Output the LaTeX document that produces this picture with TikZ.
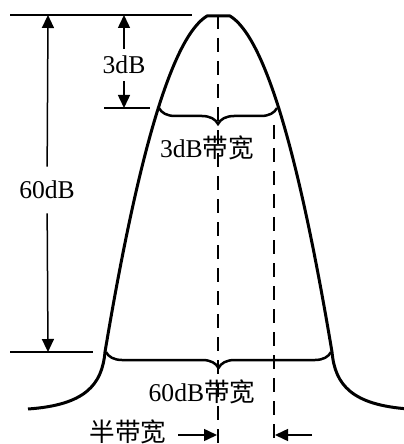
\documentclass[tikz,border=0pt]{standalone}
\usepackage{fontspec}
\setmainfont{Liberation Serif}
\newfontfamily\cjk{Noto Sans CJK SC}
\usetikzlibrary{arrows.meta,decorations.pathreplacing}

\begin{document}
\begin{tikzpicture}[x=0.5pt,y=-0.5pt,
    curve/.style={line width=1.5pt,line join=round},
    dimline/.style={line width=0.75pt},
    dimarrow/.style={line width=0.75pt,-{Triangle[length=6.5pt,width=6pt]}},
    axisline/.style={line width=0.9pt,dash pattern=on 7pt off 4.5pt},
    bwbrace/.style={line width=1.25pt,decorate,decoration={brace,mirror,amplitude=8pt}},
    lbl/.style={font=\fontsize{12.8}{15}\selectfont}]
    \useasboundingbox (0,0) rectangle (403,444);

    % Response curve
    \draw[curve] (28,409) .. controls (85,405) and (102,385) .. (105,352)
        .. controls (139,148.6) and (173,36.6) .. (207,16) -- (230,16)
        .. controls (264,36.6) and (298,148.6) .. (332,352)
        .. controls (335,385) and (352,405) .. (409,409);

    % Reference levels
    \coordinate (tl) at (10,15);
    \coordinate (tr) at (192,15);
    \coordinate (ml) at (104,108);
    \coordinate (mr) at (150,108);
    \coordinate (bl) at (10,352);
    \coordinate (br) at (93,352);
    \draw[dimline] (tl) -- (tr);
    \draw[dimline] (ml) -- (mr);
    \draw[dimline] (bl) -- (br);

    % 3dB and 60dB drops
    \coordinate (a3t) at (124,15);
    \coordinate (a3b) at (124,108);
    \node[lbl] (l3) at (124,65) {3dB};
    \draw[dimarrow] (l3) -- (a3t);
    \draw[dimarrow] (l3) -- (a3b);

    \coordinate (a60t) at (48,15);
    \coordinate (a60b) at (48,352);
    \node[lbl, inner ysep=7pt] (l60) at (47,190) {60dB};
    \draw[dimarrow] (l60) -- (a60t);
    \draw[dimarrow] (l60) -- (a60b);

    % Centre and half-band lines
    \coordinate (c0) at (218,15);
    \coordinate (c1) at (218,444);
    \coordinate (r0) at (274,125);
    \coordinate (r1) at (274,444);
    \draw[axisline] (c0) -- (c1);
    \draw[axisline, line width=1.1pt] (r0) -- (r1);

    % Bandwidth braces
    \coordinate (b3l) at (159,108);
    \coordinate (b3r) at (277,108);
    \coordinate (b60l) at (106,352);
    \coordinate (b60r) at (331,352);
    \draw[bwbrace] (b3l) -- (b3r);
    \draw[bwbrace] (b60l) -- (b60r);
    \node[lbl] (bw3) at (207,148) {3dB{\cjk 带宽}};
    \node[lbl] (bw60) at (202,392) {60dB{\cjk 带宽}};

    % Half bandwidth
    \node[lbl] (half) at (128,432) {\cjk 半带宽};
    \coordinate (hl) at (178,435);
    \coordinate (hc) at (217,435);
    \coordinate (hr) at (312,435);
    \coordinate (hrr) at (275,435);
    \draw[dimarrow] (hl) -- (hc);
    \draw[dimarrow] (hr) -- (hrr);
\end{tikzpicture}
\end{document}
